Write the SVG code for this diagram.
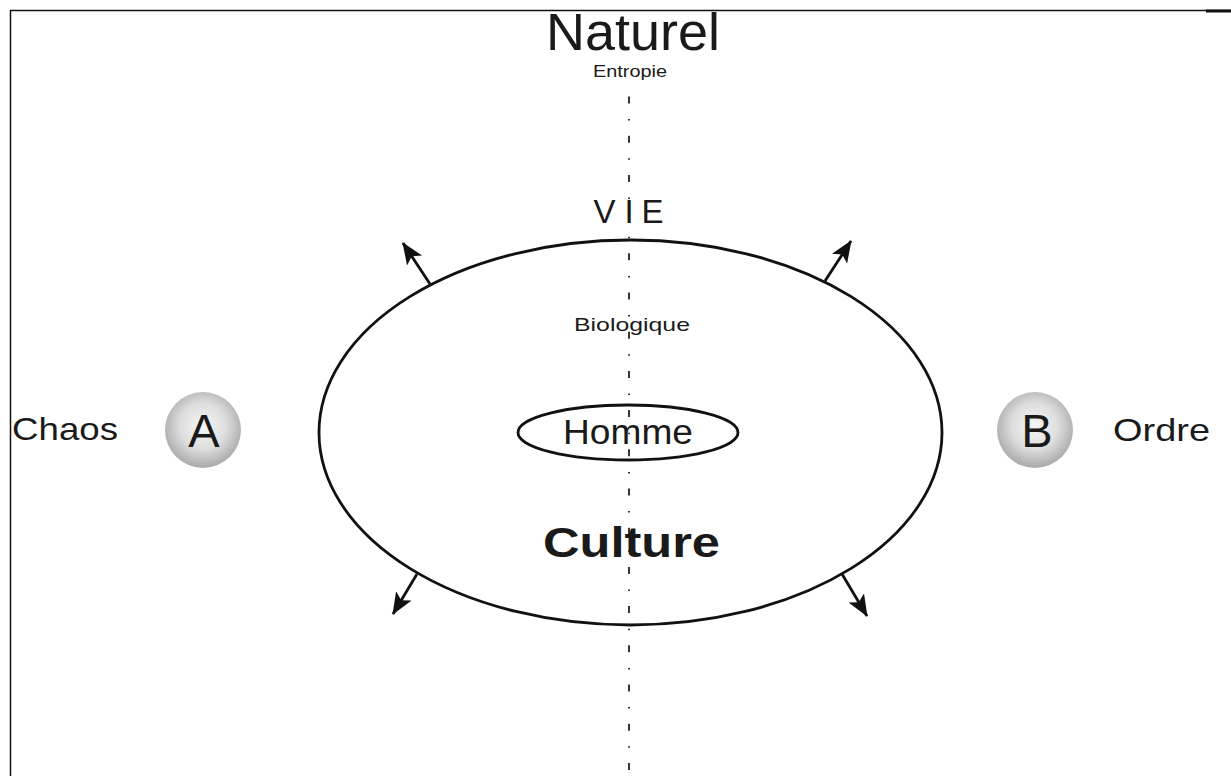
<svg xmlns="http://www.w3.org/2000/svg" width="1231" height="776" viewBox="0 0 1231 776">
<style>
.t{font-family:"Liberation Sans",Arial,sans-serif;fill:#1a1a1a;text-anchor:middle}
.l{text-anchor:start}
.ln{fill:none;stroke:#111;stroke-width:2.8}
.ar{stroke:#111;stroke-width:2.8;fill:none;marker-end:url(#ah)}
</style>
<defs>
<radialGradient id="g" cx="50%" cy="45%" r="55%">
<stop offset="0" stop-color="#f6f6f6"/>
<stop offset="0.55" stop-color="#dedede"/>
<stop offset="1" stop-color="#a9a9a9"/>
</radialGradient>
<marker id="ah" markerUnits="userSpaceOnUse" markerWidth="24" markerHeight="20" refX="21" refY="9" orient="auto">
<path d="M0,0 L22,9 L0,18 L5,9 z" fill="#111"/>
</marker>
</defs>
<rect width="1231" height="776" fill="#fff"/>
<g id="frame">
<line x1="10" y1="10.5" x2="1231" y2="10.5" stroke="#111" stroke-width="1.5"/>
<line x1="10.5" y1="10" x2="10.5" y2="776" stroke="#111" stroke-width="1.5"/>
<line x1="1206" y1="11" x2="1231" y2="11" stroke="#111" stroke-width="3"/>
</g>
<g id="axis">
<line x1="629" y1="96.5" x2="629" y2="776" stroke="#222" stroke-width="1.8" stroke-dasharray="7 15.6 1.5 15.1"/>
</g>
<g id="naturel"><text class="t" x="633" y="50" font-size="51" textLength="174" lengthAdjust="spacingAndGlyphs">Naturel</text></g>
<g id="entropie"><text class="t" x="630" y="77" font-size="17" textLength="74" lengthAdjust="spacingAndGlyphs">Entropie</text></g>
<g id="vie">
<text class="t" x="604.5" y="223" font-size="33">V</text>
<text class="t" x="629" y="223" font-size="33">I</text>
<text class="t" x="652.5" y="223" font-size="33">E</text>
</g>
<g id="culture-ellipse">
<ellipse class="ln" cx="630.5" cy="432.5" rx="311.5" ry="192.5"/>
</g>
<g id="biologique"><text class="t" x="632" y="331" font-size="19" textLength="116" lengthAdjust="spacingAndGlyphs">Biologique</text></g>
<g id="homme">
<ellipse class="ln" cx="628" cy="432.5" rx="110" ry="27.5"/>
<text class="t" x="628" y="444" font-size="35" textLength="130" lengthAdjust="spacingAndGlyphs">Homme</text>
</g>
<g id="culture"><text class="t" x="631.5" y="557" font-size="43" font-weight="bold" textLength="177" lengthAdjust="spacingAndGlyphs">Culture</text></g>
<g id="chaos"><text class="t l" x="12" y="440" font-size="32" textLength="106" lengthAdjust="spacingAndGlyphs">Chaos</text></g>
<g id="nodeA">
<circle cx="203" cy="430" r="38" fill="url(#g)"/>
<text class="t" x="204" y="447" font-size="47">A</text>
</g>
<g id="nodeB">
<circle cx="1035" cy="430" r="38" fill="url(#g)"/>
<text class="t" x="1037" y="447" font-size="47">B</text>
</g>
<g id="ordre"><text class="t l" x="1113" y="441" font-size="32" textLength="97" lengthAdjust="spacingAndGlyphs">Ordre</text></g>
<g id="connectors">
<line class="ar" x1="430" y1="284" x2="403" y2="243"/>
<line class="ar" x1="825" y1="281" x2="851" y2="241"/>
<line class="ar" x1="417" y1="574" x2="393" y2="614"/>
<line class="ar" x1="842" y1="574" x2="867" y2="616"/>
</g>
</svg>
